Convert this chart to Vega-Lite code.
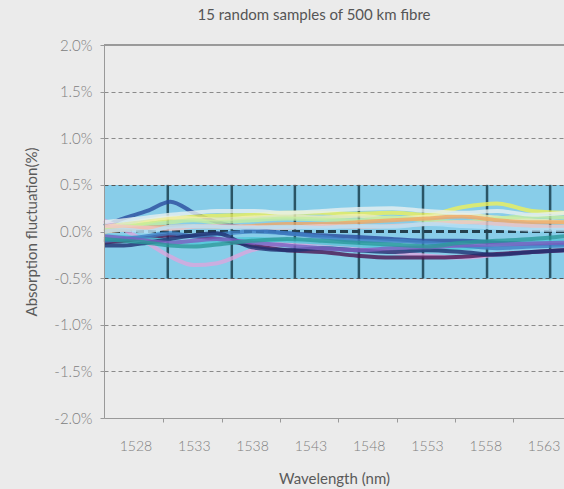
{
  "$schema": "https://vega.github.io/schema/vega-lite/v6.json",
  "width": 460,
  "height": 373,
  "autosize": {"type": "none"},
  "padding": {"left": 104, "top": 45, "right": 0, "bottom": 71},
  "background": "#ebebeb",
  "title": {"text": "15 random samples of 500 km fibre", "fontSize": 15, "font": "Lato", "color": "#555", "fontWeight": "normal", "offset": 15, "dx": -20},
  "config": {"view": {"stroke": null}, "font": "Lato"},
  "datasets": {
    "grid": [
      {"w": 1530.77}, {"w": 1536.26}, {"w": 1541.67}, {"w": 1547.16}, {"w": 1552.66}, {"w": 1558.15}, {"w": 1563.56}
    ],
    "samples": [
      {"s": "A", "w": 1525.3, "v": 0.06}, {"s": "A", "w": 1527, "v": 0.14}, {"s": "A", "w": 1529, "v": 0.22}, {"s": "A", "w": 1531, "v": 0.32}, {"s": "A", "w": 1533, "v": 0.2}, {"s": "A", "w": 1535, "v": 0.1}, {"s": "A", "w": 1538, "v": 0.03}, {"s": "A", "w": 1541, "v": -0.02}, {"s": "A", "w": 1544, "v": -0.04}, {"s": "A", "w": 1547, "v": -0.06}, {"s": "A", "w": 1550, "v": -0.08}, {"s": "A", "w": 1553, "v": -0.1}, {"s": "A", "w": 1556, "v": -0.1}, {"s": "A", "w": 1559, "v": -0.12}, {"s": "A", "w": 1562, "v": -0.13}, {"s": "A", "w": 1564.8, "v": -0.13},
      {"s": "B", "w": 1525.3, "v": 0.12}, {"s": "B", "w": 1527, "v": 0.02}, {"s": "B", "w": 1529, "v": -0.12}, {"s": "B", "w": 1531, "v": -0.27}, {"s": "B", "w": 1533, "v": -0.36}, {"s": "B", "w": 1535, "v": -0.34}, {"s": "B", "w": 1538, "v": -0.2}, {"s": "B", "w": 1541, "v": -0.13}, {"s": "B", "w": 1544, "v": -0.13}, {"s": "B", "w": 1547, "v": -0.16}, {"s": "B", "w": 1550, "v": -0.22}, {"s": "B", "w": 1553, "v": -0.26}, {"s": "B", "w": 1556, "v": -0.28}, {"s": "B", "w": 1559, "v": -0.25}, {"s": "B", "w": 1562, "v": -0.22}, {"s": "B", "w": 1564.8, "v": -0.2},
      {"s": "C", "w": 1525.3, "v": -0.12}, {"s": "C", "w": 1527, "v": -0.1}, {"s": "C", "w": 1529, "v": -0.07}, {"s": "C", "w": 1531, "v": -0.04}, {"s": "C", "w": 1533, "v": -0.05}, {"s": "C", "w": 1535, "v": -0.08}, {"s": "C", "w": 1538, "v": -0.15}, {"s": "C", "w": 1541, "v": -0.2}, {"s": "C", "w": 1544, "v": -0.22}, {"s": "C", "w": 1547, "v": -0.26}, {"s": "C", "w": 1550, "v": -0.28}, {"s": "C", "w": 1553, "v": -0.28}, {"s": "C", "w": 1556, "v": -0.27}, {"s": "C", "w": 1559, "v": -0.24}, {"s": "C", "w": 1562, "v": -0.22}, {"s": "C", "w": 1564.8, "v": -0.2},
      {"s": "D", "w": 1525.3, "v": 0.0}, {"s": "D", "w": 1527, "v": 0.04}, {"s": "D", "w": 1529, "v": 0.1}, {"s": "D", "w": 1531, "v": 0.14}, {"s": "D", "w": 1533, "v": 0.16}, {"s": "D", "w": 1535, "v": 0.17}, {"s": "D", "w": 1538, "v": 0.18}, {"s": "D", "w": 1541, "v": 0.2}, {"s": "D", "w": 1544, "v": 0.2}, {"s": "D", "w": 1547, "v": 0.19}, {"s": "D", "w": 1550, "v": 0.2}, {"s": "D", "w": 1553, "v": 0.18}, {"s": "D", "w": 1556, "v": 0.26}, {"s": "D", "w": 1559, "v": 0.3}, {"s": "D", "w": 1562, "v": 0.22}, {"s": "D", "w": 1564.8, "v": 0.2},
      {"s": "E", "w": 1525.3, "v": 0.05}, {"s": "E", "w": 1527, "v": 0.08}, {"s": "E", "w": 1529, "v": 0.12}, {"s": "E", "w": 1531, "v": 0.15}, {"s": "E", "w": 1533, "v": 0.14}, {"s": "E", "w": 1535, "v": 0.13}, {"s": "E", "w": 1538, "v": 0.15}, {"s": "E", "w": 1541, "v": 0.16}, {"s": "E", "w": 1544, "v": 0.15}, {"s": "E", "w": 1547, "v": 0.17}, {"s": "E", "w": 1550, "v": 0.14}, {"s": "E", "w": 1553, "v": 0.16}, {"s": "E", "w": 1556, "v": 0.18}, {"s": "E", "w": 1559, "v": 0.15}, {"s": "E", "w": 1562, "v": 0.12}, {"s": "E", "w": 1564.8, "v": 0.1},
      {"s": "F", "w": 1525.3, "v": 0.02}, {"s": "F", "w": 1527, "v": 0.05}, {"s": "F", "w": 1529, "v": 0.08}, {"s": "F", "w": 1531, "v": 0.1}, {"s": "F", "w": 1533, "v": 0.12}, {"s": "F", "w": 1535, "v": 0.1}, {"s": "F", "w": 1538, "v": 0.12}, {"s": "F", "w": 1541, "v": 0.14}, {"s": "F", "w": 1544, "v": 0.13}, {"s": "F", "w": 1547, "v": 0.12}, {"s": "F", "w": 1550, "v": 0.15}, {"s": "F", "w": 1553, "v": 0.12}, {"s": "F", "w": 1556, "v": 0.1}, {"s": "F", "w": 1559, "v": 0.14}, {"s": "F", "w": 1562, "v": 0.16}, {"s": "F", "w": 1564.8, "v": 0.15},
      {"s": "G", "w": 1525.3, "v": -0.05}, {"s": "G", "w": 1527, "v": -0.06}, {"s": "G", "w": 1529, "v": -0.08}, {"s": "G", "w": 1531, "v": -0.1}, {"s": "G", "w": 1533, "v": -0.12}, {"s": "G", "w": 1535, "v": -0.1}, {"s": "G", "w": 1538, "v": -0.08}, {"s": "G", "w": 1541, "v": -0.1}, {"s": "G", "w": 1544, "v": -0.12}, {"s": "G", "w": 1547, "v": -0.15}, {"s": "G", "w": 1550, "v": -0.17}, {"s": "G", "w": 1553, "v": -0.2}, {"s": "G", "w": 1556, "v": -0.18}, {"s": "G", "w": 1559, "v": -0.15}, {"s": "G", "w": 1562, "v": -0.12}, {"s": "G", "w": 1564.8, "v": -0.1},
      {"s": "H", "w": 1525.3, "v": 0.0}, {"s": "H", "w": 1527, "v": 0.02}, {"s": "H", "w": 1529, "v": 0.04}, {"s": "H", "w": 1531, "v": 0.05}, {"s": "H", "w": 1533, "v": 0.06}, {"s": "H", "w": 1535, "v": 0.05}, {"s": "H", "w": 1538, "v": 0.06}, {"s": "H", "w": 1541, "v": 0.08}, {"s": "H", "w": 1544, "v": 0.08}, {"s": "H", "w": 1547, "v": 0.1}, {"s": "H", "w": 1550, "v": 0.12}, {"s": "H", "w": 1553, "v": 0.14}, {"s": "H", "w": 1556, "v": 0.16}, {"s": "H", "w": 1559, "v": 0.12}, {"s": "H", "w": 1562, "v": 0.1}, {"s": "H", "w": 1564.8, "v": 0.1},
      {"s": "I", "w": 1525.3, "v": 0.06}, {"s": "I", "w": 1527, "v": 0.05}, {"s": "I", "w": 1529, "v": 0.04}, {"s": "I", "w": 1531, "v": 0.03}, {"s": "I", "w": 1533, "v": 0.05}, {"s": "I", "w": 1535, "v": 0.06}, {"s": "I", "w": 1538, "v": 0.05}, {"s": "I", "w": 1541, "v": 0.04}, {"s": "I", "w": 1544, "v": 0.06}, {"s": "I", "w": 1547, "v": 0.05}, {"s": "I", "w": 1550, "v": 0.06}, {"s": "I", "w": 1553, "v": 0.08}, {"s": "I", "w": 1556, "v": 0.1}, {"s": "I", "w": 1559, "v": 0.08}, {"s": "I", "w": 1562, "v": 0.06}, {"s": "I", "w": 1564.8, "v": 0.05},
      {"s": "J", "w": 1525.3, "v": -0.1}, {"s": "J", "w": 1527, "v": -0.08}, {"s": "J", "w": 1529, "v": -0.05}, {"s": "J", "w": 1531, "v": -0.02}, {"s": "J", "w": 1533, "v": -0.05}, {"s": "J", "w": 1535, "v": -0.03}, {"s": "J", "w": 1538, "v": 0.0}, {"s": "J", "w": 1541, "v": -0.02}, {"s": "J", "w": 1544, "v": -0.06}, {"s": "J", "w": 1547, "v": -0.1}, {"s": "J", "w": 1550, "v": -0.1}, {"s": "J", "w": 1553, "v": -0.12}, {"s": "J", "w": 1556, "v": -0.15}, {"s": "J", "w": 1559, "v": -0.18}, {"s": "J", "w": 1562, "v": -0.16}, {"s": "J", "w": 1564.8, "v": -0.15},
      {"s": "K", "w": 1525.3, "v": -0.15}, {"s": "K", "w": 1527, "v": -0.15}, {"s": "K", "w": 1529, "v": -0.12}, {"s": "K", "w": 1531, "v": -0.08}, {"s": "K", "w": 1533, "v": -0.04}, {"s": "K", "w": 1535, "v": -0.02}, {"s": "K", "w": 1538, "v": -0.17}, {"s": "K", "w": 1541, "v": -0.2}, {"s": "K", "w": 1544, "v": -0.18}, {"s": "K", "w": 1547, "v": -0.2}, {"s": "K", "w": 1550, "v": -0.22}, {"s": "K", "w": 1553, "v": -0.2}, {"s": "K", "w": 1556, "v": -0.22}, {"s": "K", "w": 1559, "v": -0.25}, {"s": "K", "w": 1562, "v": -0.22}, {"s": "K", "w": 1564.8, "v": -0.2},
      {"s": "L", "w": 1525.3, "v": -0.05}, {"s": "L", "w": 1527, "v": -0.07}, {"s": "L", "w": 1529, "v": -0.1}, {"s": "L", "w": 1531, "v": -0.12}, {"s": "L", "w": 1533, "v": -0.1}, {"s": "L", "w": 1535, "v": -0.08}, {"s": "L", "w": 1538, "v": -0.12}, {"s": "L", "w": 1541, "v": -0.15}, {"s": "L", "w": 1544, "v": -0.18}, {"s": "L", "w": 1547, "v": -0.2}, {"s": "L", "w": 1550, "v": -0.18}, {"s": "L", "w": 1553, "v": -0.17}, {"s": "L", "w": 1556, "v": -0.15}, {"s": "L", "w": 1559, "v": -0.14}, {"s": "L", "w": 1562, "v": -0.13}, {"s": "L", "w": 1564.8, "v": -0.12},
      {"s": "M", "w": 1525.3, "v": 0.0}, {"s": "M", "w": 1527, "v": 0.02}, {"s": "M", "w": 1529, "v": 0.0}, {"s": "M", "w": 1531, "v": 0.05}, {"s": "M", "w": 1533, "v": 0.06}, {"s": "M", "w": 1535, "v": 0.05}, {"s": "M", "w": 1538, "v": 0.04}, {"s": "M", "w": 1541, "v": 0.05}, {"s": "M", "w": 1544, "v": 0.04}, {"s": "M", "w": 1547, "v": 0.06}, {"s": "M", "w": 1550, "v": 0.05}, {"s": "M", "w": 1553, "v": 0.08}, {"s": "M", "w": 1556, "v": 0.06}, {"s": "M", "w": 1559, "v": 0.04}, {"s": "M", "w": 1562, "v": 0.02}, {"s": "M", "w": 1564.8, "v": 0.02},
      {"s": "N", "w": 1525.3, "v": 0.1}, {"s": "N", "w": 1527, "v": 0.12}, {"s": "N", "w": 1529, "v": 0.15}, {"s": "N", "w": 1531, "v": 0.18}, {"s": "N", "w": 1533, "v": 0.2}, {"s": "N", "w": 1535, "v": 0.22}, {"s": "N", "w": 1538, "v": 0.22}, {"s": "N", "w": 1541, "v": 0.2}, {"s": "N", "w": 1544, "v": 0.22}, {"s": "N", "w": 1547, "v": 0.24}, {"s": "N", "w": 1550, "v": 0.25}, {"s": "N", "w": 1553, "v": 0.22}, {"s": "N", "w": 1556, "v": 0.2}, {"s": "N", "w": 1559, "v": 0.22}, {"s": "N", "w": 1562, "v": 0.18}, {"s": "N", "w": 1564.8, "v": 0.2},
      {"s": "O", "w": 1525.3, "v": -0.08}, {"s": "O", "w": 1527, "v": -0.1}, {"s": "O", "w": 1529, "v": -0.12}, {"s": "O", "w": 1531, "v": -0.15}, {"s": "O", "w": 1533, "v": -0.16}, {"s": "O", "w": 1535, "v": -0.14}, {"s": "O", "w": 1538, "v": -0.1}, {"s": "O", "w": 1541, "v": -0.08}, {"s": "O", "w": 1544, "v": -0.1}, {"s": "O", "w": 1547, "v": -0.12}, {"s": "O", "w": 1550, "v": -0.14}, {"s": "O", "w": 1553, "v": -0.16}, {"s": "O", "w": 1556, "v": -0.12}, {"s": "O", "w": 1559, "v": -0.1}, {"s": "O", "w": 1562, "v": -0.08}, {"s": "O", "w": 1564.8, "v": -0.05}
    ]
  },
  "layer": [
    {
      "data": {"name": "samples"},
      "mark": {"type": "rect", "color": "#88cde9"},
      "encoding": {
        "y": {"datum": -0.5, "type": "quantitative"},
        "y2": {"datum": 0.5}
      }
    },
    {
      "data": {"name": "grid"},
      "mark": {"type": "rule", "color": "#2a5566", "strokeWidth": 2.5},
      "encoding": {
        "x": {"field": "w", "type": "quantitative"},
        "y": {"datum": -0.5, "type": "quantitative"},
        "y2": {"datum": 0.5}
      }
    },
    {
      "data": {"name": "samples"},
      "mark": {"type": "rule", "color": "#24404e", "strokeWidth": 2, "strokeDash": [8, 4]},
      "encoding": {"y": {"datum": 0, "type": "quantitative"}}
    },
    {
      "data": {"name": "samples"},
      "mark": {"type": "line", "strokeWidth": 4, "opacity": 0.8, "interpolate": "monotone"},
      "encoding": {
        "x": {
          "field": "w", "type": "quantitative",
          "scale": {"domain": [1525.3, 1564.75], "nice": false, "zero": false},
          "axis": {
            "values": [1528, 1533, 1538, 1543, 1548, 1553, 1558, 1563],
            "format": "d",
            "tickOffset": 28, "labelOffset": -28, "labelFlush": false,
            "grid": false, "title": "Wavelength (nm)",
            "titleFontSize": 15, "titleColor": "#5a5a5a", "titleFontWeight": "normal", "titlePadding": 18,
            "labelFontSize": 14, "labelFontWeight": 300, "labelColor": "#808080", "labelPadding": 17,
            "tickSize": 4, "tickColor": "#999", "domainColor": "#999"
          }
        },
        "y": {
          "field": "v", "type": "quantitative",
          "scale": {"domain": [-2, 2], "nice": false},
          "axis": {
            "values": [-2, -1.5, -1, -0.5, 0, 0.5, 1, 1.5, 2],
            "labelExpr": "replace(format(datum.value, '.1f'), '\u2212', '-') + '%'",
            "zindex": 1,
            "grid": true,
            "gridDash": [4, 3],
            "gridColor": {"condition": {"test": "abs(datum.value) == 0.5", "value": "#555"}, "value": "#8a8a8a"},
            "gridOpacity": {"condition": {"test": "datum.value == 0 || abs(datum.value) == 2", "value": 0}, "value": 1},
            "title": "Absorption fluctuation(%)",
            "titleFontSize": 15, "titleColor": "#5a5a5a", "titleFontWeight": "normal", "titlePadding": 14,
            "labelFontSize": 15, "labelFontWeight": 300, "labelColor": "#808080", "labelPadding": 8,
            "tickSize": 4, "tickColor": "#999", "domainColor": "#999"
          }
        },
        "color": {
          "field": "s", "type": "nominal", "legend": null,
          "scale": {
            "domain": ["A", "B", "C", "D", "E", "F", "G", "H", "I", "J", "K", "L", "M", "N", "O"],
            "range": ["#2b4c9e", "#dca6dd", "#4b1450", "#eef05a", "#f3efb0", "#c6eea0", "#4fc8d8", "#f2a765", "#f3c5c5", "#3f7fc4", "#1f2f70", "#7d5fc0", "#b8e0f5", "#e8f0f0", "#2a9a9a"]
          }
        }
      }
    },
    {
      "data": {"name": "samples"},
      "mark": {"type": "rule", "color": "#999", "strokeWidth": 1},
      "encoding": {"y": {"datum": 2, "type": "quantitative"}}
    }
  ]
}
